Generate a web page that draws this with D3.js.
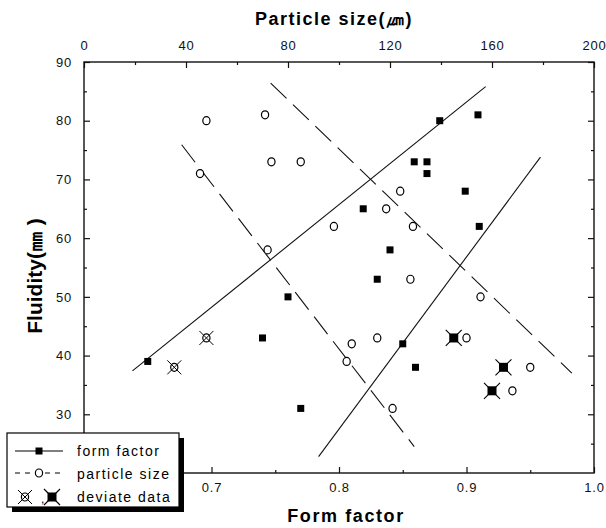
<!DOCTYPE html>
<html>
<head>
<meta charset="utf-8">
<script src="https://cdn.jsdelivr.net/npm/d3@7"></script>
<style>
  body { margin: 0; background: #fff; }
  svg { display: block; font-family: "Liberation Sans", Arial, sans-serif; }
  .tick text { font-size: 13px; fill: #111; letter-spacing: 0.8px; }
  .tick line { stroke: #111; stroke-width: 1.2; }
</style>
</head>
<body>
<svg id="chart" width="606" height="528"></svg>
<script>
// form factor (filled squares) vs fluidity
const ffForm = [0.650, 0.740, 0.760, 0.770, 0.819, 0.830, 0.840, 0.850, 0.860, 0.859, 0.869, 0.869, 0.879, 0.899, 0.909, 0.910];
const ffFluid = [39, 43, 50, 31, 65, 53, 58, 42, 38, 73, 73, 71, 80, 68, 81, 62];
// particle size (open circles) vs fluidity
const psSize = [48, 71, 73.5, 85, 45.5, 72, 98, 118.5, 124, 129, 128, 115, 105, 103, 121, 155.5, 150, 175, 168];
const psFluid = [80, 81, 73, 73, 71, 58, 62, 65, 68, 62, 53, 43, 42, 39, 31, 50, 43, 38, 34];
// deviate data
const devPsSize = [35.4, 48];
const devPsFluid = [38, 43];
const devFfForm = [0.890, 0.929, 0.920];
const devFfFluid = [43, 38, 34];
// fit lines (endpoints)
const ffLineA = [[0.638, 37.4], [0.915, 85.8]];
const ffLineB = [[0.784, 22.8], [0.958, 73.8]];
const psLineA = [[38.3, 75.9], [129.5, 24.5]];
const psLineB = [[73.2, 86.4], [191.3, 37.0]];
// ticks
const ffTicks = [0.7, 0.8, 0.9, 1.0];
const psTicks = [0, 40, 80, 120, 160, 200];
const fluidTicks = [30, 40, 50, 60, 70, 80, 90];

const svg = d3.select('#chart');
const mLeft = 84, mRight = 594, mTop = 62, mBottom = 473;

const xFF = d3.scaleLinear().domain([0.6, 1.0]).range([mLeft, mRight]);
const xPS = d3.scaleLinear().domain([0, 200]).range([mLeft, mRight]);
const y = d3.scaleLinear().domain([20, 90]).range([mBottom, mTop]);

// axes (ticks inward)
svg.append('g').attr('transform', `translate(0,${mBottom})`)
  .call(d3.axisBottom(xFF).tickValues(ffTicks).tickSize(-6).tickPadding(10)
    .tickFormat(d3.format('.1f')));
svg.append('g').attr('transform', `translate(0,${mBottom})`)
  .call(d3.axisBottom(xFF).tickValues(d3.range(0.65, 1.0, 0.1)).tickSize(-3).tickFormat(''));
svg.append('g').attr('transform', `translate(0,${mTop})`)
  .call(d3.axisTop(xPS).tickValues(psTicks).tickSize(-6).tickPadding(12));
svg.append('g').attr('transform', `translate(0,${mTop})`)
  .call(d3.axisTop(xPS).tickValues(d3.range(20, 200, 40)).tickSize(-3).tickFormat(''));
svg.append('g').attr('transform', `translate(${mLeft},0)`)
  .call(d3.axisLeft(y).tickValues(fluidTicks).tickSize(-6).tickPadding(12));
svg.append('g').attr('transform', `translate(${mLeft},0)`)
  .call(d3.axisLeft(y).tickValues(d3.range(25, 90, 10)).tickSize(-3).tickFormat(''));
svg.append('g').attr('transform', `translate(${mRight},0)`)
  .call(d3.axisRight(y).tickValues(fluidTicks).tickSize(-6).tickFormat(''));
svg.append('g').attr('transform', `translate(${mRight},0)`)
  .call(d3.axisRight(y).tickValues(d3.range(25, 90, 10)).tickSize(-3).tickFormat(''));
svg.selectAll('.domain').remove();

svg.append('rect')
  .attr('x', mLeft).attr('y', mTop)
  .attr('width', mRight - mLeft).attr('height', mBottom - mTop)
  .attr('fill', 'none').attr('stroke', '#111').attr('stroke-width', 1.4);

// axis titles
svg.append('text').attr('x', 334).attr('y', 25).attr('text-anchor', 'middle')
  .style('font-size', '18px').style('font-weight', 'bold').style('letter-spacing', '1.5px')
  .text('Particle size(㎛)');
svg.append('text').attr('x', 346).attr('y', 522).attr('text-anchor', 'middle')
  .style('font-size', '18px').style('font-weight', 'bold').style('letter-spacing', '1.6px')
  .text('Form factor');
svg.append('text').attr('transform', 'translate(42,276) rotate(-90)').attr('text-anchor', 'middle')
  .style('font-size', '21px').style('font-weight', 'bold')
  .text('Fluidity(㎜ )');

// fit lines
const lineFF = d3.line().x(d => xFF(d[0])).y(d => y(d[1]));
const linePS = d3.line().x(d => xPS(d[0])).y(d => y(d[1]));
[ffLineA, ffLineB].forEach((l) => {
  svg.append('path').attr('d', lineFF(l)).attr('fill', 'none')
    .attr('stroke', '#111').attr('stroke-width', 1.1);
});
[psLineA, psLineB].forEach((l) => {
  svg.append('path').attr('d', linePS(l)).attr('fill', 'none')
    .attr('stroke', '#111').attr('stroke-width', 1.1).attr('stroke-dasharray', '22,9');
});

// marker helpers
function square(g, cx, cy, s) {
  g.append('rect').attr('x', cx - s / 2).attr('y', cy - s / 2)
    .attr('width', s).attr('height', s).attr('fill', '#000');
}
function circle(g, cx, cy) {
  g.append('ellipse').attr('cx', cx).attr('cy', cy).attr('rx', 3.6).attr('ry', 4)
    .attr('fill', '#fff').attr('stroke', '#000').attr('stroke-width', 1.2);
}
function cross(g, cx, cy, r, w) {
  g.append('path')
    .attr('d', `M${cx - r},${cy - r}L${cx + r},${cy + r}M${cx - r},${cy + r}L${cx + r},${cy - r}`)
    .attr('stroke', '#000').attr('stroke-width', w);
}
function devSquare(g, cx, cy) {
  square(g, cx, cy, 9);
  cross(g, cx, cy, 8, 1.1);
}
function devCircle(g, cx, cy) {
  circle(g, cx, cy);
  cross(g, cx, cy, 7, 1);
}

const marks = svg.append('g');
ffForm.forEach((d, i) => square(marks, xFF(d), y(ffFluid[i]), 7));
psSize.forEach((d, i) => circle(marks, xPS(d), y(psFluid[i])));
devPsSize.forEach((d, i) => devCircle(marks, xPS(d), y(devPsFluid[i])));
devFfForm.forEach((d, i) => devSquare(marks, xFF(d), y(devFfFluid[i])));

// legend
const lg = svg.append('g');
lg.append('rect').attr('x', 12).attr('y', 438).attr('width', 172).attr('height', 74).attr('fill', '#000');
lg.append('rect').attr('x', 7).attr('y', 433).attr('width', 172).attr('height', 74)
  .attr('fill', '#fff').attr('stroke', '#000').attr('stroke-width', 1.2);
lg.append('line').attr('x1', 15).attr('x2', 63).attr('y1', 451).attr('y2', 451)
  .attr('stroke', '#000').attr('stroke-width', 1.1);
square(lg, 39, 451, 7);
lg.append('line').attr('x1', 15).attr('x2', 63).attr('y1', 473).attr('y2', 473)
  .attr('stroke', '#000').attr('stroke-width', 1.1).attr('stroke-dasharray', '5,5');
circle(lg, 39, 473);
devCircle(lg, 25, 497);
lg.append('text').attr('x', 41).attr('y', 503).style('font-size', '12px').text(',');
devSquare(lg, 52, 497);
const labels = ['form factor', 'particle size', 'deviate data'];
labels.forEach((t, i) => {
  lg.append('text').attr('x', 77).attr('y', 456 + i * 23)
    .style('font-size', '14px').style('letter-spacing', '1.5px').text(t);
});
</script>
</body>
</html>
